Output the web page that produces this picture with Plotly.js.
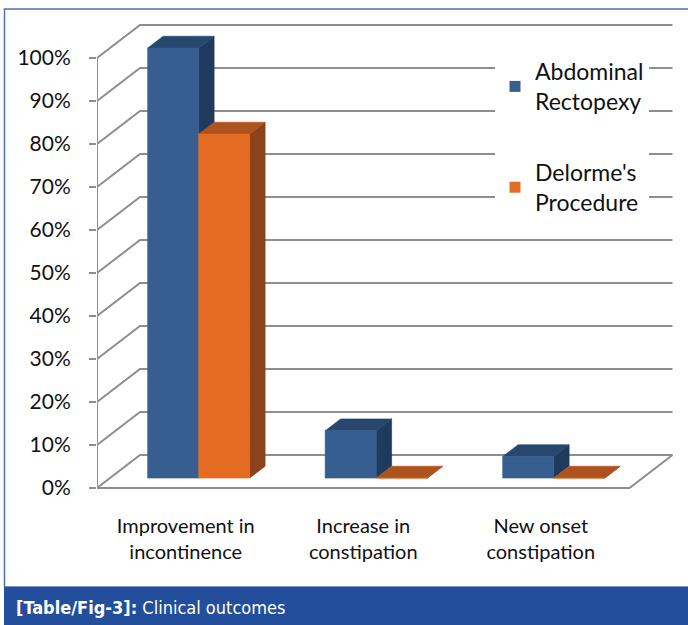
<!DOCTYPE html>
<html><head><meta charset="utf-8">
<script src="https://cdn.plot.ly/plotly-3.0.1.min.js"></script>
<style>html,body{margin:0;padding:0;background:#fff}#chart{width:688px;height:625px}</style>
</head><body><div id="chart"></div>
<script>
// ---- data ----
const categories = ['Improvement in<br>incontinence', 'Increase in<br>constipation', 'New onset<br>constipation'];
const seriesNames = ['Abdominal<br>Rectopexy', "Delorme's<br>Procedure"];
const abdominalRectopexy = [100, 11, 5];
const delormeProcedure = [80, 0, 0];
const yTickValues = [0, 10, 20, 30, 40, 50, 60, 70, 80, 90, 100];
const yTickLabels = yTickValues.map(v => v + '%');
const caption = '<b>[Table/Fig-3]:</b> Clinical outcomes';

// ---- geometry / style ----
const W = 688, H = 625, M = {l: 97, r: 8, t: 20, b: 125};
const plotW = W - M.l - M.r, plotH = H - M.t - M.b;
const pxPerCat = 177.5, pxPerPct = 4.3, zeroPx = 488;
const xMin = -0.5, xMax = xMin + plotW / pxPerCat;
const yMax = (zeroPx - M.t) / pxPerPct, yMin = (zeroPx - (H - M.b)) / pxPerPct;
const depth = {x: 43 / pxPerCat, y: 33 / pxPerPct};
const barFront = 0.30, barBack = 0.66, barWidth = 51 / pxPerCat;
const floorLeft = -0.5, floorRight = categories.length - 0.5;
const px = v => (v - M.l) / plotW;
const py = v => (H - M.b - v) / plotH;

const colors = {
  blue: {front: '#365E91', top: '#27476F', side: '#1E3A5C'},
  orange: {front: '#E46C22', top: '#AE5220', side: '#8C421B'}
};
const gridColor = '#8E8E8E';
const FONT = 'Lato, Carlito, "Open Sans", sans-serif';

function addPoly(obj, pts) {
  pts.forEach(p => { obj.x.push(p[0]); obj.y.push(p[1]); });
  obj.x.push(pts[0][0]); obj.y.push(pts[0][1]);
  obj.x.push(null); obj.y.push(null);
}

function barFaces(values, leftSide) {
  const fr = {x: [], y: []}, tp = {x: [], y: []}, sd = {x: [], y: []};
  const fx = barFront * depth.x, fy = barFront * depth.y;
  const bx = barBack * depth.x, by = barBack * depth.y;
  values.forEach((v, i) => {
    const x0 = i + (leftSide ? -barWidth : 0), x1 = x0 + barWidth;
    addPoly(sd, [[x1 + fx, fy], [x1 + bx, by], [x1 + bx, v + by], [x1 + fx, v + fy]]);
    addPoly(tp, [[x0 + fx, v + fy], [x1 + fx, v + fy], [x1 + bx, v + by], [x0 + bx, v + by]]);
    addPoly(fr, [[x0 + fx, fy], [x1 + fx, fy], [x1 + fx, v + fy], [x0 + fx, v + fy]]);
  });
  return {fr, tp, sd};
}

function faceTrace(d, color) {
  return {x: d.x, y: d.y, type: 'scatter', mode: 'lines', fill: 'toself',
    fillcolor: color, line: {color: color, width: 0.6}, showlegend: false, hoverinfo: 'skip'};
}

// grid lines: front axis -> back wall
const grid = {x: [], y: []};
yTickValues.forEach(v => {
  grid.x.push(floorLeft, floorLeft + depth.x, floorRight + depth.x, null);
  grid.y.push(v, v + depth.y, v + depth.y, null);
});
// floor outline + front vertical axis
grid.x.push(floorLeft, floorRight, floorRight + depth.x, null, floorLeft, floorLeft);
grid.y.push(0, 0, depth.y, null, 0, yTickValues[yTickValues.length - 1]);

const blue = barFaces(abdominalRectopexy, true);
const orange = barFaces(delormeProcedure, false);

const data = [
  {x: grid.x, y: grid.y, type: 'scatter', mode: 'lines', line: {color: gridColor, width: 2},
   showlegend: false, hoverinfo: 'skip'},
  faceTrace(blue.sd, colors.blue.side), faceTrace(blue.tp, colors.blue.top), faceTrace(blue.fr, colors.blue.front),
  faceTrace(orange.sd, colors.orange.side), faceTrace(orange.tp, colors.orange.top), faceTrace(orange.fr, colors.orange.front),
  {x: [null], y: [null], type: 'scatter', mode: 'markers', name: seriesNames[0], legendgroup: 'a',
   marker: {symbol: 'square', size: 11, color: colors.blue.front}},
  {x: [null], y: [null], type: 'scatter', mode: 'markers', name: seriesNames[1], legendgroup: 'b',
   marker: {symbol: 'square', size: 11, color: colors.orange.front}}
];

const layout = {
  width: W, height: H, margin: M,
  paper_bgcolor: '#fff', plot_bgcolor: 'rgba(0,0,0,0)',
  font: {family: FONT, color: '#111'},
  showlegend: true,
  legend: {x: px(495), y: py(50), xanchor: 'left', yanchor: 'top', bgcolor: '#fff',
    font: {family: FONT, size: 23, color: '#111'}, tracegroupgap: 38, itemclick: false},
  xaxis: {range: [xMin, xMax], tickvals: categories.map((c, i) => i), ticktext: categories,
    showgrid: false, zeroline: false, showline: false, ticks: 'outside', ticklen: 8,
    tickcolor: 'rgba(0,0,0,0)', tickfont: {family: FONT, size: 20, color: '#111'}, fixedrange: true},
  yaxis: {range: [yMin, yMax], tickvals: yTickValues, ticktext: yTickLabels,
    showgrid: false, zeroline: false, showline: false, ticks: 'outside', ticklen: 7, tickwidth: 2,
    tickcolor: gridColor, ticklabelstandoff: 14, tickfont: {family: FONT, size: 21, color: '#111'}, fixedrange: true},
  shapes: [
    {type: 'rect', xref: 'paper', yref: 'paper', x0: px(4.5), x1: px(720), y0: py(587), y1: py(9),
     line: {color: '#4D70B6', width: 1.5}, fillcolor: 'rgba(0,0,0,0)'},
    {type: 'rect', xref: 'paper', yref: 'paper', x0: px(4), x1: px(720), y0: py(625), y1: py(587),
     line: {width: 0}, fillcolor: '#224E9B'}
  ],
  annotations: [
    {text: caption, xref: 'paper', yref: 'paper', x: px(14), y: py(607), xanchor: 'left', yanchor: 'middle',
     showarrow: false, font: {family: '"Liberation Sans Narrow", "DejaVu Sans Condensed", "Liberation Sans", sans-serif', size: 18, color: '#fff'}}
  ]
};

Plotly.newPlot('chart', data, layout, {displayModeBar: false, staticPlot: true});
</script></body></html>
